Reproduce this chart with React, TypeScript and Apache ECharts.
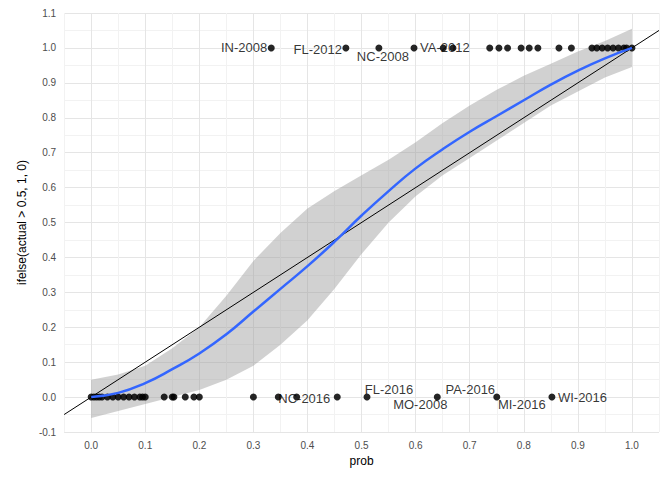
import { useEffect, useRef } from 'react';
import * as echarts from 'echarts';

// observed outcomes at 0 and 1
const probsAt0 = [0, 0.005, 0.01, 0.015, 0.02, 0.03, 0.04, 0.05, 0.06, 0.07, 0.08, 0.09, 0.095, 0.1, 0.135, 0.15, 0.153, 0.174, 0.19, 0.2, 0.3, 0.346, 0.38, 0.455, 0.51, 0.64, 0.75, 0.852];
const probsAt1 = [0.333, 0.471, 0.532, 0.597, 0.651, 0.669, 0.737, 0.754, 0.77, 0.795, 0.81, 0.826, 0.865, 0.888, 0.926, 0.935, 0.945, 0.955, 0.965, 0.975, 0.985, 0.99, 1.0];

// loess fit and its confidence band
const fitX = [0, 0.05, 0.1, 0.15, 0.2, 0.25, 0.3, 0.35, 0.4, 0.45, 0.5, 0.55, 0.6, 0.65, 0.7, 0.75, 0.8, 0.85, 0.9, 0.95, 1.0];
const fitY = [0, 0.012, 0.04, 0.08, 0.125, 0.18, 0.245, 0.31, 0.375, 0.445, 0.52, 0.59, 0.655, 0.71, 0.76, 0.805, 0.85, 0.895, 0.935, 0.97, 1.0];
const bandLo = [-0.06, -0.04, -0.02, 0.0, 0.02, 0.05, 0.09, 0.15, 0.22, 0.31, 0.41, 0.5, 0.575, 0.635, 0.685, 0.735, 0.785, 0.835, 0.875, 0.915, 0.945];
const bandHi = [0.05, 0.065, 0.09, 0.14, 0.2, 0.29, 0.39, 0.47, 0.54, 0.59, 0.635, 0.68, 0.73, 0.785, 0.835, 0.88, 0.92, 0.955, 0.99, 1.02, 1.055];

// labelled states: [name, prob, outcome, position, offsetX, offsetY]
const stateLabels: [string, number, number, string, number, number][] = [
  ['IN-2008', 0.333, 1, 'left', 0, 0],
  ['FL-2012', 0.471, 1, 'left', 0, 2],
  ['NC-2008', 0.532, 1, 'bottom', 4, -2],
  ['VA-2012', 0.597, 1, 'right', 2, 0],
  ['NC-2016', 0.346, 0, 'right', -4, 1],
  ['FL-2016', 0.51, 0, 'top', 22, 3],
  ['PA-2016', 0.64, 0, 'top', 33, 3],
  ['MO-2008', 0.64, 0, 'bottom', -17, -3],
  ['MI-2016', 0.75, 0, 'bottom', 25, -3],
  ['WI-2016', 0.852, 0, 'right', 2, 0],
];

const MAJOR = '#e5e5e5';
const MINOR = '#f2f2f2';

const isMajor = (v: number) => Math.round(v * 20) % 2 === 0;

export default function App() {
  const chartRef = useRef<HTMLDivElement>(null);

  useEffect(() => {
    if (!chartRef.current) return;
    const chart = echarts.init(chartRef.current, null, { renderer: 'svg' });

    const axisLabel = {
      color: '#4d4d4d',
      fontSize: 10,
      fontFamily: 'Liberation Sans',
      formatter: (v: number) => (isMajor(v) ? v.toFixed(1) : ''),
    };

    const bandData = fitX.map((x, i) => [x, bandLo[i], bandHi[i]]);

    chart.setOption({
      animation: false,
      textStyle: { fontFamily: 'Liberation Sans' },
      grid: { left: 39, right: 5, top: 2, bottom: 40 },
      xAxis: {
        type: 'value',
        min: -0.05,
        max: 1.05,
        interval: 0.05,
        name: 'prob',
        nameLocation: 'middle',
        nameGap: 22,
        nameTextStyle: { color: '#000', fontSize: 12 },
        axisLine: { show: false },
        axisTick: { show: false },
        axisLabel,
        splitLine: { lineStyle: { color: [MINOR, MAJOR], width: 1 } },
      },
      yAxis: {
        type: 'value',
        min: -0.1,
        max: 1.1,
        interval: 0.05,
        name: 'ifelse(actual > 0.5, 1, 0)',
        nameLocation: 'middle',
        nameGap: 28,
        nameTextStyle: { color: '#000', fontSize: 12 },
        axisLine: { show: false },
        axisTick: { show: false },
        axisLabel,
        splitLine: { lineStyle: { color: [MAJOR, MINOR], width: 1 } },
      },
      series: [
        {
          type: 'custom',
          silent: true,
          data: bandData,
          encode: { x: 0, y: [1, 2] },
          renderItem: (params: any, api: any) => {
            if (params.dataIndex !== 0) return null;
            const upper = bandData.map((d) => api.coord([d[0], d[2]]));
            const lower = bandData.map((d) => api.coord([d[0], d[1]])).reverse();
            return {
              type: 'polygon',
              shape: { points: [...upper, ...lower] },
              style: { fill: '#999999', opacity: 0.45 },
            };
          },
        },
        {
          type: 'line',
          data: [[-0.05, -0.05], [1.05, 1.05]],
          lineStyle: { color: '#000', width: 1 },
          symbol: 'none',
        },
        {
          type: 'scatter',
          data: [...probsAt0.map((p) => [p, 0]), ...probsAt1.map((p) => [p, 1])],
          symbolSize: 7,
          itemStyle: { color: '#000', opacity: 0.85 },
        },
        {
          type: 'line',
          data: fitX.map((x, i) => [x, fitY[i]]),
          lineStyle: { color: '#3366ff', width: 2.5 },
          symbol: 'none',
          smooth: true,
        },
        {
          type: 'scatter',
          symbolSize: 0,
          data: stateLabels.map(([name, p, y, pos, ox, oy]) => ({
            value: [p, y],
            label: {
              show: true,
              formatter: name,
              position: pos,
              offset: [ox, oy],
              color: '#000',
              fontSize: 13,
              distance: 4,
            },
          })),
        },
      ],
    });

    return () => chart.dispose();
  }, []);

  return <div ref={chartRef} style={{ width: 656, height: 464 }} />;
}
